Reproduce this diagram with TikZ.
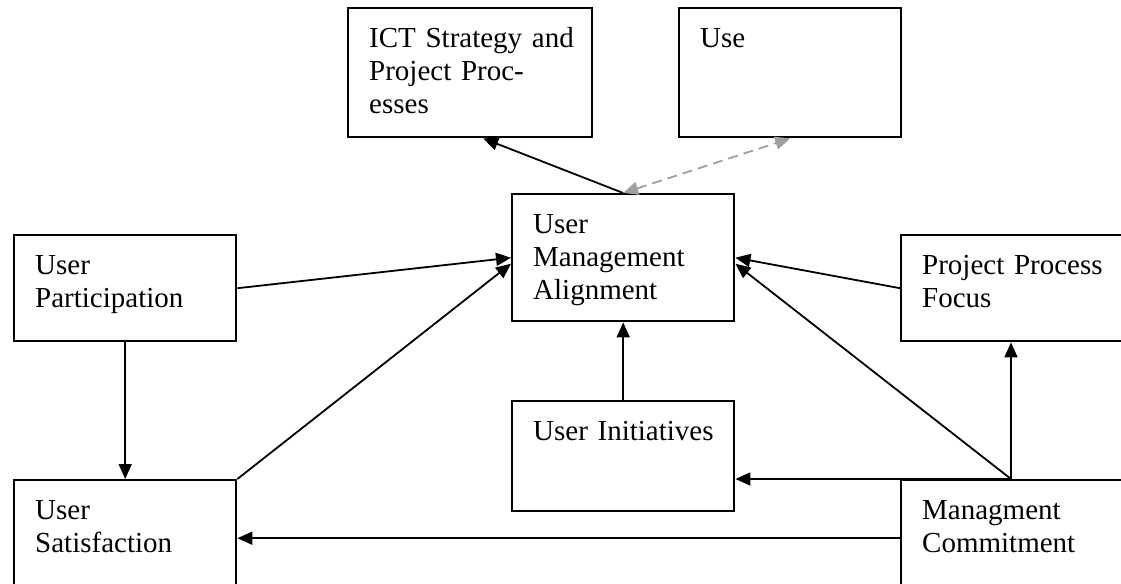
\documentclass[tikz,border=0pt]{standalone}
\usepackage{fontspec}
\setmainfont{Liberation Serif}
\usetikzlibrary{arrows.meta}

\tikzset{
  box/.style={draw, line width=1.2pt, anchor=north west, align=left,
    inner xsep=10.5pt, inner ysep=10.25pt, text width=90pt,
    text height=9.6pt, font=\fontsize{14.5pt}{16.5pt}\selectfont,
    execute at begin node={\hyphenpenalty=10000\relax}},
  link/.style={->, line width=0.9pt},
  weak/.style={<->, line width=0.9pt, draw=gray!75, dash pattern=on 5pt off 3pt},
}

\begin{document}
\begin{tikzpicture}[x=0.5pt, y=-0.5pt, >={Triangle[length=7.5pt,width=6.5pt]}]
\clip (0,0) rectangle (1121,584);
\node(ict)[box, text width=101pt, text depth=34.4pt] at (347,7) {ICT~Strategy~and\\Project~Proc-\\esses};
\node(use)[box, text depth=34.4pt] at (678,7) {Use};
\node(uma)[box, text depth=33.4pt] at (511,193) {User\\Management\\Alignment};
\node(up)[box, text depth=22.9pt] at (13,234) {User\\Participation};
\node(ppf)[box, text width=110pt, text depth=22.9pt] at (900,234) {Project~Process\\Focus};
\node(ui)[box, text depth=24.9pt] at (511,400) {User~Initiatives};
\node(us)[box, text depth=27.9pt] at (13,479) {User\\Satisfaction};
\node(mc)[box, text width=110pt, text depth=27.9pt] at (900,479) {Managment\\Commitment};
\coordinate(fork) at ([xshift=55.5pt]mc.north west);
% links
\draw[link] (uma.north) -- ([xshift=6.5pt]ict.south);
\draw[weak] (uma.north) -- (use.south);
\draw[link] (up.east) -- (uma.west);
\draw[link] (us.north east) -- ([yshift=-3pt]uma.west);
\draw[link] (ppf.west) -- (uma.east);
\draw[link] (fork) -- ([yshift=-3pt]uma.east);
\draw[link] (ui.north) -- (uma.south);
\draw[link] (up.south) -- (us.north);
\draw[link] (fork) -- (fork |- ppf.south);
\draw[link] (fork) -- (fork -| ui.east);
\draw[link] (mc.west) -- (us.east);
\end{tikzpicture}
\end{document}
